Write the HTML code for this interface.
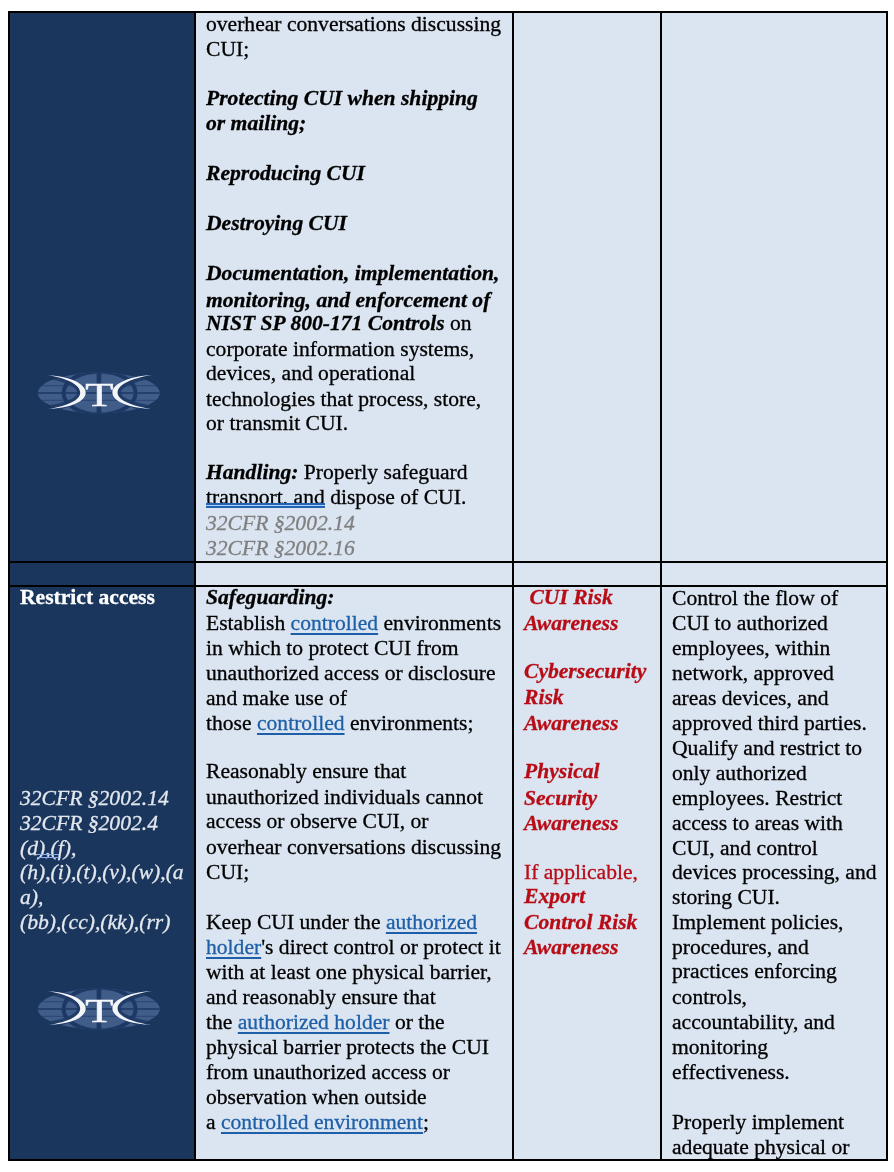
<!DOCTYPE html>
<html><head><meta charset="utf-8"><title>CUI Table</title>
<style>
html,body{margin:0;padding:0;background:#fff;}
body{width:894px;height:1172px;position:relative;overflow:hidden;font-family:"Liberation Serif","Times New Roman",serif;font-size:21.6px;line-height:24.95px;color:#000;-webkit-text-stroke:0.3px currentColor;}
.abs{position:absolute;}
.blk{position:absolute;background:#000;}
.dark{position:absolute;background:#1a365d;}
.light{position:absolute;background:#dbe5f1;}
.t{position:absolute;white-space:nowrap;z-index:1;}
.n{position:relative;}
.bi{font-weight:bold;font-style:italic;}
.i{font-style:italic;}
.b{font-weight:bold;}
.red{color:#b80c16;}
.gry{color:#7f7f7f;}
.lnk{color:#1d5fa8;text-decoration:underline;text-decoration-thickness:1.7px;text-underline-offset:2.6px;}
.gram{position:relative;}
.gram::after{content:"";position:absolute;z-index:1;left:0;right:0;top:18.6px;height:1px;border-top:2px solid #2462b3;border-bottom:2px solid #2462b3;background:#a6d3fa;box-shadow:0 2px 0 #dbe5f1;}
.gram.g2::after{left:-1px;right:-1px;top:18.2px;height:2px;border-width:1.5px;border-color:#86acf0;background:transparent;box-shadow:none;}
</style></head><body>
<div class="blk" style="left:8px;top:11px;width:880px;height:1150px;"></div>
<div class="dark" style="left:10px;top:13px;width:184px;height:548px;"></div>
<div class="light" style="left:196px;top:13px;width:316px;height:548px;"></div>
<div class="light" style="left:514px;top:13px;width:146px;height:548px;"></div>
<div class="light" style="left:662px;top:13px;width:224px;height:548px;"></div>
<div class="dark" style="left:10px;top:563px;width:184px;height:22px;"></div>
<div class="light" style="left:196px;top:563px;width:316px;height:22px;"></div>
<div class="light" style="left:514px;top:563px;width:146px;height:22px;"></div>
<div class="light" style="left:662px;top:563px;width:224px;height:22px;"></div>
<div class="dark" style="left:10px;top:587px;width:184px;height:572px;"></div>
<div class="light" style="left:196px;top:587px;width:316px;height:572px;"></div>
<div class="light" style="left:514px;top:587px;width:146px;height:572px;"></div>
<div class="light" style="left:662px;top:587px;width:224px;height:572px;"></div>
<div class="t " id="r1c2" style="left:206px;top:11.5px;">overhear conversations discussing<br>
<span class="n" style="top:1px">CUI;</span><br>
<br>
<span class="bi">Protecting CUI when shipping</span><br>
<span class="bi">or mailing;</span><br>
<br>
<span class="bi">Reproducing CUI</span><br>
<br>
<span class="bi">Destroying CUI</span><br>
<br>
<span class="bi">Documentation, implementation,</span><br>
<span class="n" style="top:2px"><span class="bi">monitoring, and enforcement of</span></span><br>
<span class="bi">NIST SP 800-171 Controls</span> on<br>
<span class="n" style="top:1px">corporate information systems,</span><br>
devices, and operational<br>
<span class="n" style="top:1px">technologies that process, store,</span><br>
or transmit CUI.<br>
<br>
<span class="n" style="top:-1px"><span class="bi">Handling:</span> Properly safeguard</span><br>
<span class="n" style="top:-1px"><span class="gram">transport, and</span> dispose of CUI.</span><br>
<span class="i gry">32CFR §2002.14</span><br>
<span class="i gry">32CFR §2002.16</span></div>
<div class="t b" id="r3c1a" style="left:20px;top:585.3px;color:#fff;">Restrict access</div>
<div class="t i" id="r3c1b" style="left:20px;top:785.6px;color:#e3e7ee;">32CFR §2002.14<br>
32CFR §2002.4<br>
(d<span class="gram g2">),(</span>f),<br>
(h),(i),(t),(v),(w),(a<br>
a),<br>
(bb),(cc),(kk),(rr)</div>
<div class="t " id="r3c2" style="left:206px;top:586px;"><span class="n" style="top:-1px"><span class="bi">Safeguarding:</span></span><br>
Establish <span class="lnk">controlled</span> environments<br>
in which to protect CUI from<br>
unauthorized access or disclosure<br>
and make use of<br>
those <span class="lnk">controlled</span> environments;<br>
<br>
<span class="n" style="top:-2px">Reasonably ensure that</span><br>
<span class="n" style="top:-1px">unauthorized individuals cannot</span><br>
<span class="n" style="top:-2px">access or observe CUI, or</span><br>
<span class="n" style="top:-1px">overhear conversations discussing</span><br>
CUI;<br>
<br>
Keep CUI under the <span class="lnk">authorized</span><br>
<span class="lnk">holder</span>'s direct control or protect it<br>
with at least one physical barrier,<br>
and reasonably ensure that<br>
the <span class="lnk">authorized holder</span> or the<br>
physical barrier protects the CUI<br>
from unauthorized access or<br>
observation when outside<br>
a <span class="lnk">controlled environment</span>;</div>
<div class="t red" id="r3c3" style="left:524px;top:586px;"><span class="n" style="top:-1px"><span class="bi">&nbsp;CUI Risk</span></span><br>
<span class="bi">Awareness</span><br>
<br>
<span class="n" style="top:-2px"><span class="bi">Cybersecurity</span></span><br>
<span class="n" style="top:-1px"><span class="bi">Risk</span></span><br>
<span class="bi">Awareness</span><br>
<br>
<span class="n" style="top:-2px"><span class="bi">Physical</span></span><br>
<span class="bi">Security</span><br>
<span class="bi">Awareness</span><br>
<br>
If applicable,<br>
<span class="n" style="top:-1px"><span class="bi">Export</span></span><br>
<span class="bi">Control Risk</span><br>
<span class="bi">Awareness</span></div>
<div class="t " id="r3c4" style="left:672px;top:586px;">Control the flow of<br>
CUI to authorized<br>
employees, within<br>
network, approved<br>
areas devices, and<br>
approved third parties.<br>
Qualify and restrict to<br>
only authorized<br>
employees. Restrict<br>
access to areas with<br>
CUI, and control<br>
devices processing, and<br>
storing CUI.<br>
Implement policies,<br>
procedures, and<br>
<span class="n" style="top:-1px">practices enforcing</span><br>
controls,<br>
accountability, and<br>
monitoring<br>
effectiveness.<br>
<br>
Properly implement<br>
adequate physical or</div>
<svg class="abs logo" style="left:34px;top:368.4px;" width="130" height="50" viewBox="-65 -25 130 50">
<filter id="bl1" x="-5%" y="-10%" width="110%" height="120%"><feGaussianBlur stdDeviation="0.45"/></filter>
<g filter="url(#bl1)">
<clipPath id="gc1"><ellipse cx="-0.2" cy="0" rx="61" ry="20.4"/></clipPath>
<ellipse cx="-0.2" cy="0" rx="61" ry="20.4" fill="#3f5b89"/>
<g fill="none" stroke="#1e3965" clip-path="url(#gc1)">
<line x1="-61" y1="0" x2="61" y2="0" stroke-width="1.6"/>
<line x1="-61" y1="7.4" x2="61" y2="7.4" stroke-width="1.3" opacity="0.5"/>
<line x1="-61" y1="-7.4" x2="61" y2="-7.4" stroke-width="1.3" opacity="0.5"/>
<line x1="-0.1" y1="-21" x2="-0.1" y2="21" stroke-width="4.6"/>
<ellipse cx="0.6" cy="0" rx="36" ry="21.5" stroke-width="4"/>
<path d="M-54,-18 C-32,-14.8 -18.8,-8.4 -18.8,-0.4 C-18.8,7.6 -32,13 -54,16.4" stroke-width="6.4" opacity="0.9"/>
<path d="M56,-18 C33,-14.8 18.6,-8.4 18.6,-0.4 C18.6,7.6 33,13 56,16.4" stroke-width="6.4" opacity="0.9"/>
</g>
<path d="M-51,-17.8 C-28,-16.8 -13.3,-9 -13.3,-0.4 C-13.3,8.6 -28,15 -50.5,16.1 C-32,13 -18.8,7.6 -18.8,-0.4 C-18.8,-8.4 -32,-14.8 -51,-17.8 Z" fill="#f3f5f9"/>
<path d="M53,-17.9 C30,-16.8 13.4,-9 13.4,-0.4 C13.4,8.6 30,15 52.2,16.1 C33,13 18.6,7.6 18.6,-0.4 C18.6,-8.4 33,-14.8 53,-17.9 Z" fill="#f3f5f9"/>
<text x="0" y="13.2" transform="translate(0.4,0) scale(1.40,1)" text-anchor="middle" font-family="Liberation Serif, serif" font-size="33" fill="#f3f5f9" stroke="#f3f5f9" stroke-width="0.5">T</text>
</g>
</svg>

<svg class="abs logo" style="left:34px;top:984.4px;" width="130" height="50" viewBox="-65 -25 130 50">
<filter id="bl2" x="-5%" y="-10%" width="110%" height="120%"><feGaussianBlur stdDeviation="0.45"/></filter>
<g filter="url(#bl2)">
<clipPath id="gc2"><ellipse cx="-0.2" cy="0" rx="61" ry="20.4"/></clipPath>
<ellipse cx="-0.2" cy="0" rx="61" ry="20.4" fill="#3f5b89"/>
<g fill="none" stroke="#1e3965" clip-path="url(#gc2)">
<line x1="-61" y1="0" x2="61" y2="0" stroke-width="1.6"/>
<line x1="-61" y1="7.4" x2="61" y2="7.4" stroke-width="1.3" opacity="0.5"/>
<line x1="-61" y1="-7.4" x2="61" y2="-7.4" stroke-width="1.3" opacity="0.5"/>
<line x1="-0.1" y1="-21" x2="-0.1" y2="21" stroke-width="4.6"/>
<ellipse cx="0.6" cy="0" rx="36" ry="21.5" stroke-width="4"/>
<path d="M-54,-18 C-32,-14.8 -18.8,-8.4 -18.8,-0.4 C-18.8,7.6 -32,13 -54,16.4" stroke-width="6.4" opacity="0.9"/>
<path d="M56,-18 C33,-14.8 18.6,-8.4 18.6,-0.4 C18.6,7.6 33,13 56,16.4" stroke-width="6.4" opacity="0.9"/>
</g>
<path d="M-51,-17.8 C-28,-16.8 -13.3,-9 -13.3,-0.4 C-13.3,8.6 -28,15 -50.5,16.1 C-32,13 -18.8,7.6 -18.8,-0.4 C-18.8,-8.4 -32,-14.8 -51,-17.8 Z" fill="#f3f5f9"/>
<path d="M53,-17.9 C30,-16.8 13.4,-9 13.4,-0.4 C13.4,8.6 30,15 52.2,16.1 C33,13 18.6,7.6 18.6,-0.4 C18.6,-8.4 33,-14.8 53,-17.9 Z" fill="#f3f5f9"/>
<text x="0" y="13.2" transform="translate(0.4,0) scale(1.40,1)" text-anchor="middle" font-family="Liberation Serif, serif" font-size="33" fill="#f3f5f9" stroke="#f3f5f9" stroke-width="0.5">T</text>
</g>
</svg>

<div class="abs" style="left:0;top:1161px;width:894px;height:11px;background:#fff;z-index:2;"></div>
<div class="abs" style="left:0;top:0;width:894px;height:11px;background:#fff;z-index:2;"></div>
</body></html>
